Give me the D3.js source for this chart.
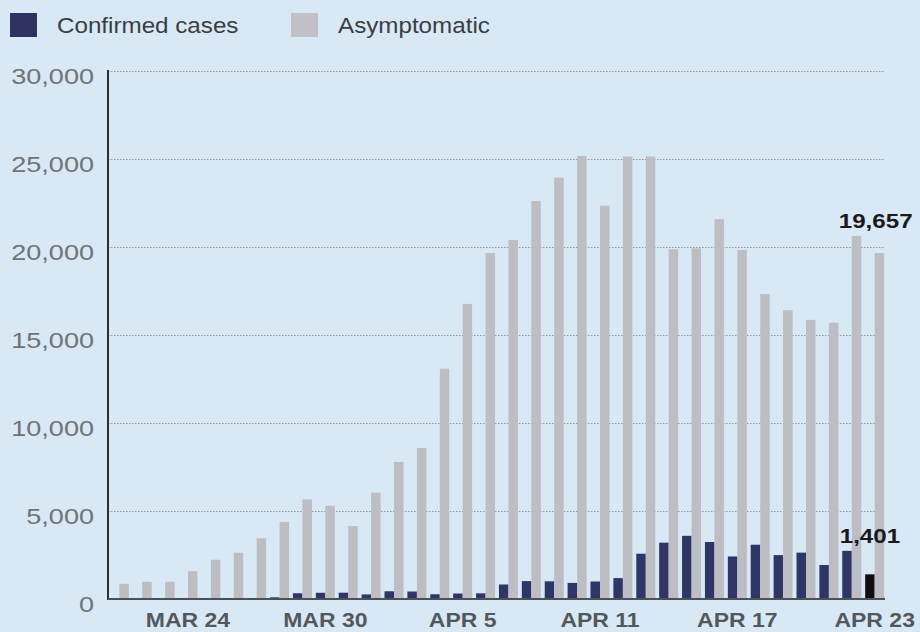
<!DOCTYPE html>
<html>
<head>
<meta charset="utf-8">
<script src="https://cdn.jsdelivr.net/npm/d3@7"></script>
<style>
  html, body { margin: 0; padding: 0; background: #d8e9f5; }
  svg { display: block; font-family: 'Liberation Sans', Arial, Helvetica, sans-serif; }
</style>
</head>
<body>
<div id="chart"></div>
<script>
const days = [
  'MAR 21', 'MAR 22', 'MAR 23', 'MAR 24', 'MAR 25', 'MAR 26', 'MAR 27', 'MAR 28', 'MAR 29', 'MAR 30', 'MAR 31',
  'APR 1', 'APR 2', 'APR 3', 'APR 4', 'APR 5', 'APR 6', 'APR 7', 'APR 8', 'APR 9', 'APR 10', 'APR 11',
  'APR 12', 'APR 13', 'APR 14', 'APR 15', 'APR 16', 'APR 17', 'APR 18', 'APR 19', 'APR 20', 'APR 21',
  'APR 22', 'APR 23'
]
const confirmed = [
  4, 4, 4, 29, 38, 45, 50, 96, 326, 355, 358,
  260, 438, 425, 268, 311, 322, 824, 1015, 1006, 914, 994,
  1189, 2573, 3200, 3590, 3238, 2417, 3084, 2494, 2634, 1931,
  2736, 1401
]
const asymptomatic = [
  865, 977, 979, 1580, 2231, 2631, 3450, 4381, 5656, 5298, 4144,
  6051, 7788, 8581, 13086, 16766, 19660, 20398, 22609, 23937, 25173, 22348,
  25141, 25146, 19872, 19923, 21582, 19831, 17332, 16407, 15861, 15698,
  20634, 19657
]
const labelDays = ['MAR 24', 'MAR 30', 'APR 5', 'APR 11', 'APR 17', 'APR 23']
const yTicks = [0, 5000, 10000, 15000, 20000, 25000, 30000]
const seriesNames = ['Confirmed cases', 'Asymptomatic']

const width = 920
const height = 632
const plotLeft = 108
const plotRight = 885
const plotTop = 71
const plotBottom = 599
const stretch = 1.15 // the source picture is a bit wide

const svg = d3.select('#chart').append('svg').attr('width', width).attr('height', height)
svg.append('rect').attr('width', width).attr('height', height).attr('fill', '#d8e9f5')

const y = d3.scaleLinear().domain([0, 30000]).range([plotBottom, plotTop])
const x = d3.scaleBand().domain(days).range([plotLeft, 886]).paddingInner(0.17).paddingOuter(0.08)
const xs = d3.scaleBand().domain(['c', 'a']).range([0, x.bandwidth()])
const fmt = d3.format(',')

// gridlines + y labels
const yAxis = svg.append('g')
  .attr('transform', `translate(${plotLeft},0)`)
  .call(d3.axisLeft(y).tickValues(yTicks).tickSize(-(plotRight - plotLeft)).tickFormat(fmt))
yAxis.select('.domain').remove()
yAxis.selectAll('.tick line')
  .attr('stroke', '#8d979f')
  .attr('stroke-width', 1)
  .attr('stroke-dasharray', '1.5,1.5')
yAxis.selectAll('.tick text')
  .attr('x', null).attr('dy', null)
  .attr('transform', `translate(-14,12) scale(1.23,1)`)
  .attr('font-size', 22)
  .attr('font-family', "'Liberation Sans', Arial, sans-serif")
  .attr('fill', '#6f7378')
  .attr('text-anchor', 'end')

// bars
const day = svg.append('g').selectAll('g')
  .data(days)
  .join('g')
  .attr('transform', d => `translate(${x(d)},0)`)

day.append('rect')
  .attr('x', xs('c'))
  .attr('width', xs.bandwidth())
  .attr('y', (d, i) => y(confirmed[i]))
  .attr('height', (d, i) => plotBottom - y(confirmed[i]))
  .attr('fill', (d, i) => (i === days.length - 1 ? '#0e0e10' : '#2f3564'))

day.append('rect')
  .attr('x', xs('a'))
  .attr('width', xs.bandwidth())
  .attr('y', (d, i) => y(asymptomatic[i]))
  .attr('height', (d, i) => plotBottom - y(asymptomatic[i]))
  .attr('fill', '#bcbec4')

// axis lines
svg.append('line')
  .attr('x1', plotLeft).attr('x2', plotLeft).attr('y1', plotTop - 1).attr('y2', plotBottom + 1)
  .attr('stroke', '#2b2f34').attr('stroke-width', 2)
svg.append('line')
  .attr('x1', plotLeft).attr('x2', plotRight).attr('y1', plotBottom).attr('y2', plotBottom)
  .attr('stroke', '#4b5157').attr('stroke-width', 2)

// x labels
const xAxis = svg.append('g')
  .attr('transform', `translate(0,${plotBottom})`)
  .call(d3.axisBottom(x).tickValues(labelDays).tickSize(0))
xAxis.select('.domain').remove()
xAxis.selectAll('.tick text')
  .attr('y', null).attr('dy', null)
  .attr('transform', `translate(0,28) scale(${stretch},1)`)
  .attr('font-size', 20)
  .attr('font-weight', 'bold')
  .attr('font-family', "'Liberation Sans', Arial, sans-serif")
  .attr('fill', '#53585d')

// latest values
const last = days.length - 1
const stretchText = (g, tx, ty, txt) =>
  g.append('text')
    .attr('transform', `translate(${tx},${ty}) scale(${stretch},1)`)
    .text(txt)

const lab = svg.append('g').attr('font-weight', 'bold').attr('font-size', 21).attr('fill', '#1a1a1c').attr('text-anchor', 'middle')
stretchText(lab, x(days[last]) + x.bandwidth() / 2 + 1, y(d3.max(asymptomatic.slice(-2))) - 8, fmt(asymptomatic[last]))
stretchText(lab, x(days[last]) + xs('c') + xs.bandwidth() / 2, y(d3.max(confirmed.slice(-2))) - 8, fmt(confirmed[last]))

// legend
const legendColors = ['#2e3260', '#c0c0c6']
const legendX = [10, 291]
const legend = svg.append('g').selectAll('g')
  .data(seriesNames)
  .join('g')
  .attr('transform', (d, i) => `translate(${legendX[i]},13)`)
legend.append('rect').attr('width', 27).attr('height', 24).attr('fill', (d, i) => legendColors[i])
legend.append('text')
  .attr('transform', `translate(47,20) scale(1.1,1)`)
  .attr('font-size', 22)
  .attr('fill', '#3a3e42')
  .text(d => d)
</script>
</body>
</html>
